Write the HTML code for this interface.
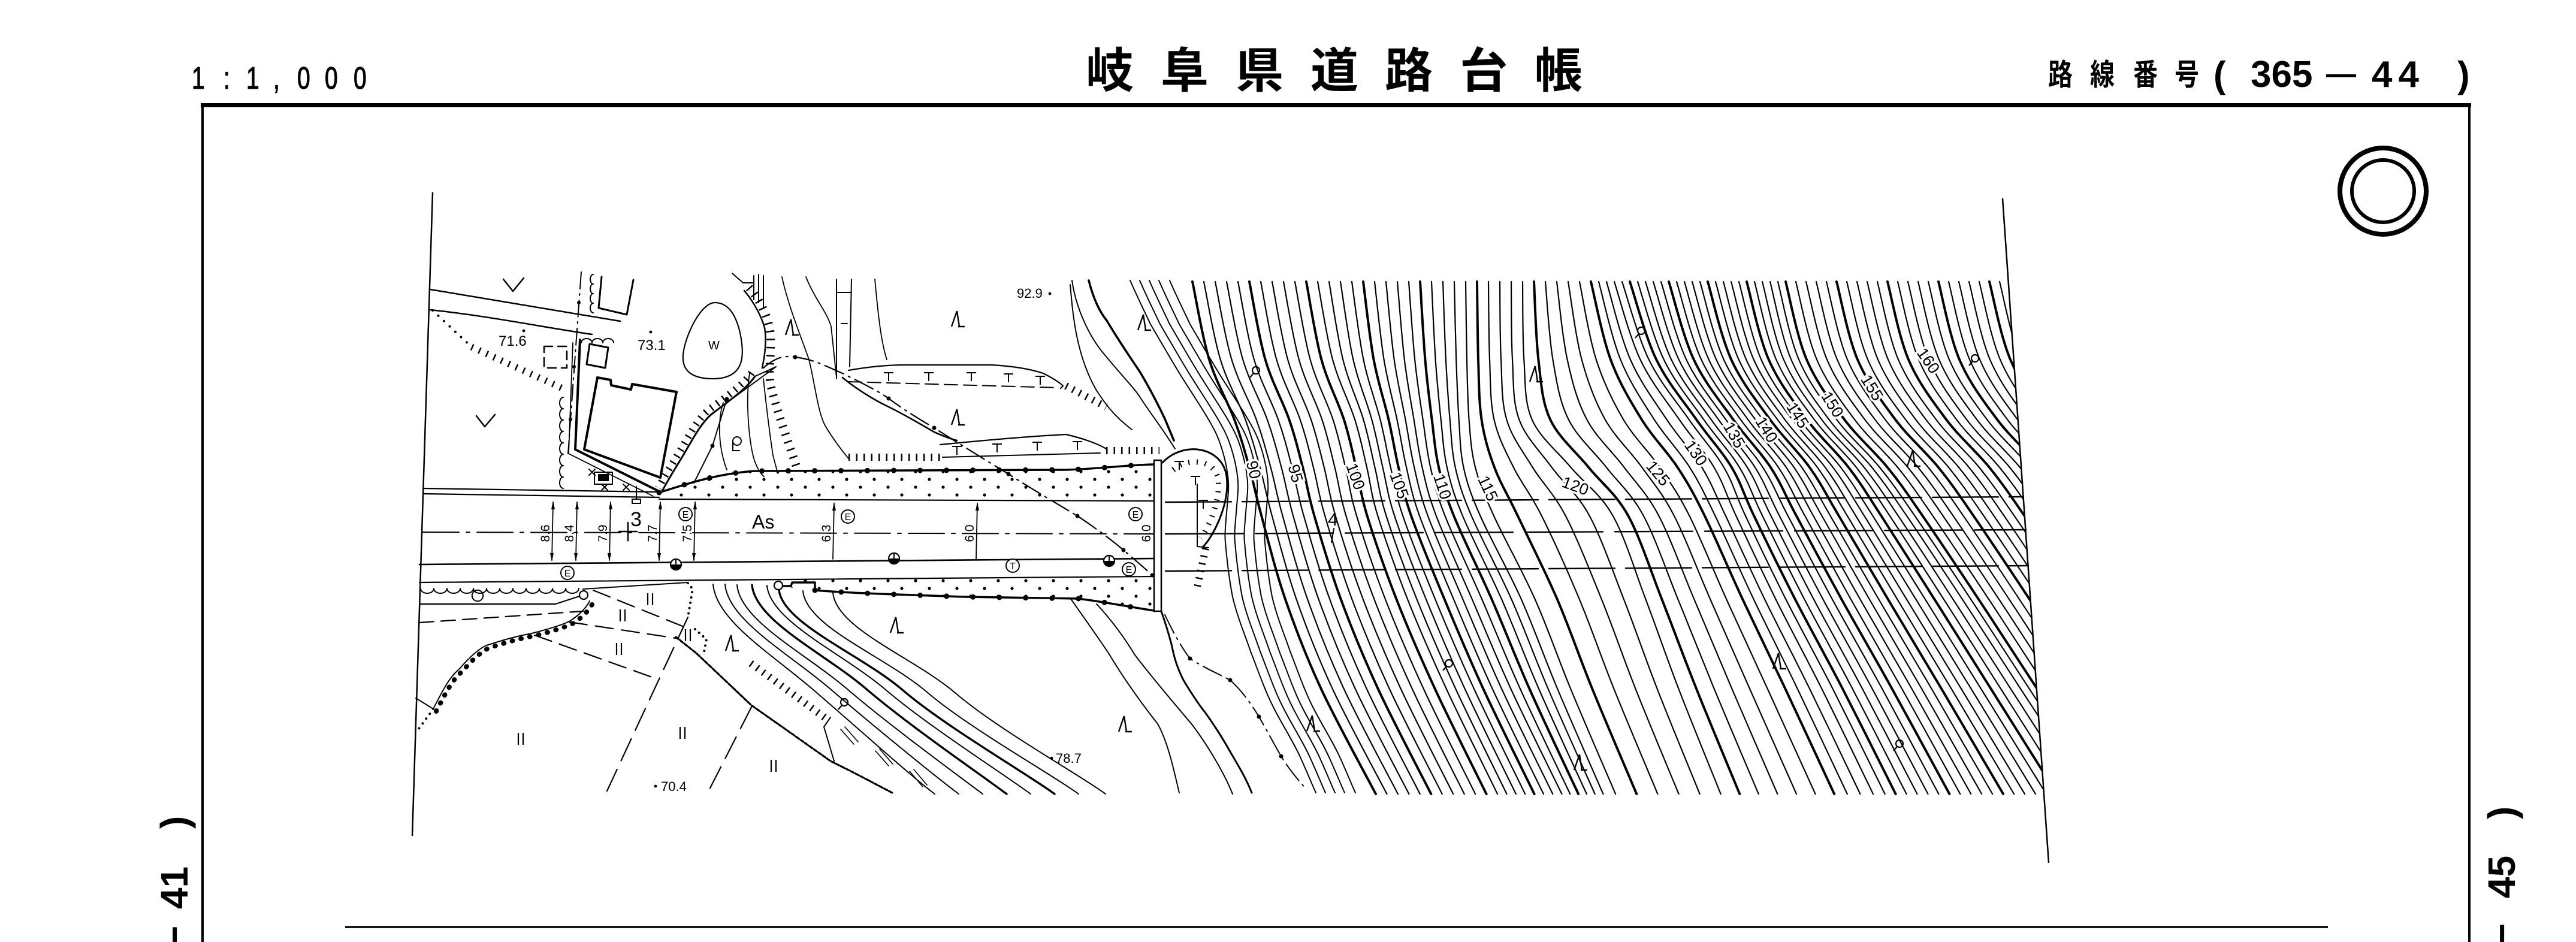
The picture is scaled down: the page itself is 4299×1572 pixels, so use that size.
<!DOCTYPE html>
<html><head><meta charset="utf-8">
<style>
html,body{margin:0;padding:0;background:#fff;}
svg{display:block;}
</style></head><body>
<svg xmlns="http://www.w3.org/2000/svg" width="4299" height="1572" viewBox="0 0 4299 1572">
<rect width="4299" height="1572" fill="#fff"/>
<defs>
 <pattern id="dots" width="46" height="26" patternUnits="userSpaceOnUse"><circle cx="10" cy="7" r="2.6" fill="#000"/><circle cx="33" cy="20" r="2.6" fill="#000"/></pattern>
 <g id="lam"><path d="M-9,13 L0,-13 L4,13 M2,13 H13" fill="none" stroke="#000" stroke-width="2.4"/></g>
 <g id="q"><circle cx="0" cy="0" r="6" fill="none" stroke="#000" stroke-width="2.2"/><path d="M-4,5 L-10,12" stroke="#000" stroke-width="2.2"/></g>
 <g id="ii"><path d="M-4,-10 V10 M4,-10 V10" stroke="#000" stroke-width="2.2" fill="none"/></g>
 <g id="ce"><circle r="11" fill="#fff" stroke="#000" stroke-width="2"/><text y="6" text-anchor="middle" font-size="16" font-family="Liberation Sans, sans-serif" fill="#000">E</text></g>
 <g id="ct"><circle r="11" fill="#fff" stroke="#000" stroke-width="2"/><text y="6" text-anchor="middle" font-size="16" font-family="Liberation Sans, sans-serif" fill="#000">T</text></g>
 <g id="ho"><circle r="9" fill="#fff" stroke="#000" stroke-width="2.2"/><path d="M-9,0 A9,9 0 0 0 9,0 Z" fill="#000"/><path d="M0,-9 V0" stroke="#000" stroke-width="2"/></g>
 <g id="tt"><path d="M-8,0 H8 M0,0 V14" stroke="#000" stroke-width="2" fill="none"/></g>
 <clipPath id="mc"><polygon points="1700,440 3349,440 3419,1440 1700,1440"/></clipPath>
</defs>

<!-- HEADER -->
<g font-family="Liberation Sans, sans-serif" font-size="52" fill="#000" stroke="#000" stroke-width="1.2">
 <text transform="translate(320,148) scale(0.75,1)">1</text>
 <text transform="translate(373,148) scale(0.75,1)">:</text>
 <text transform="translate(411,148) scale(0.75,1)">1</text>
 <text transform="translate(456,148) scale(0.75,1)">,</text>
 <text transform="translate(496,148) scale(0.75,1)">0</text>
 <text transform="translate(542,148) scale(0.75,1)">0</text>
 <text transform="translate(590,148) scale(0.75,1)">0</text>
</g>
<g font-family="Liberation Sans, Noto Sans CJK JP, sans-serif" font-weight="bold" font-size="80" fill="#000">
 <text x="1812" y="146">岐</text>
 <text x="1937" y="146">阜</text>
 <text x="2062" y="146">県</text>
 <text x="2187" y="146">道</text>
 <text x="2311" y="146">路</text>
 <text x="2436" y="146">台</text>
 <text x="2561" y="146">帳</text>
</g>
<g font-family="Liberation Sans, Noto Sans CJK JP, sans-serif" font-weight="bold" fill="#000">
 <text transform="translate(3418,142) scale(0.82,1)" font-size="50">路</text>
 <text transform="translate(3488,142) scale(0.82,1)" font-size="50">線</text>
 <text transform="translate(3560,142) scale(0.82,1)" font-size="50">番</text>
 <text transform="translate(3629,142) scale(0.82,1)" font-size="50">号</text>
 <text x="3694" y="146" font-size="62">(</text>
 <text x="3756" y="145" font-size="62">365</text>
 <text x="3882" y="140" font-size="50">—</text>
 <text x="3958" y="145" font-size="62" letter-spacing="10">44</text>
 <text x="4101" y="146" font-size="62">)</text>
</g>

<!-- BORDER -->
<g stroke="#000" fill="none">
 <line x1="335" y1="175.5" x2="4124" y2="175.5" stroke-width="7"/>
 <line x1="338" y1="172" x2="338" y2="1572" stroke-width="4"/>
 <line x1="4121" y1="172" x2="4121" y2="1572" stroke-width="4"/>
 <line x1="576" y1="1547" x2="3885" y2="1547" stroke-width="3.5"/>
 <circle cx="3977" cy="319" r="72" stroke-width="8"/>
 <circle cx="3977" cy="319" r="52" stroke-width="6"/>
</g>

<!-- side labels -->
<g font-family="Liberation Sans, sans-serif" font-weight="bold" font-size="64" fill="#000">
 <text transform="translate(313,1517) rotate(-90)">41</text>
 <text transform="translate(313,1383) rotate(-90)">)</text>
 <text transform="translate(313,1582) rotate(-90)">−</text>
 <text transform="translate(4197,1499) rotate(-90)">45</text>
 <text transform="translate(4197,1367) rotate(-90)">)</text>
 <text transform="translate(4197,1578) rotate(-90)">−</text>
</g>
<g font-family="Liberation Sans, Noto Sans CJK JP, sans-serif" font-size="60" fill="#000">
 <text x="1945" y="1624">平</text>
 <text x="2070" y="1624">面</text>
 <text x="2230" y="1624">図</text>
</g>

<!-- MAP FRAME -->
<g stroke="#000" fill="none" stroke-width="2.5">
 <line x1="722" y1="321" x2="688" y2="1395"/>
 <line x1="3342" y1="331" x2="3419" y2="1440"/>
</g>

<!-- MAIN CONTOUR FIELD (generated) -->
<g id="cont" clip-path="url(#mc)" stroke="#000" fill="none" stroke-linecap="round"></g>

<!-- LEFT MAP CONTENT -->
<g stroke="#000" fill="none" stroke-linecap="round" stroke-linejoin="round" stroke-width="2">
 <path d="M718,483 L1035,536" stroke-width="2.5"/>
 <path d="M718,517 C820,528 900,545 988,558" stroke-width="2.5"/>
 <path d="M722,518 L787,579" stroke-width="4" stroke-dasharray="0 13"/>
 <path d="M787,579 L943,650" stroke-width="11" stroke-dasharray="2.5 11" stroke-linecap="butt"/>
 <path d="M840,466 L856,486 L874,464" stroke-width="2.5"/>
 <path d="M795,694 L809,712 L826,692" stroke-width="2.5"/>
 <rect x="908" y="578" width="38" height="36" stroke-dasharray="14 9" stroke-width="2.5"/>
 <path d="M970,454 L948,757" stroke-dasharray="28 8 3 8"/>
 <path d="M940,663 a6,9.5 0 0 0 0,19 a6,9.5 0 0 0 0,19 a6,9.5 0 0 0 0,19 a6,9.5 0 0 0 0,19 a6,9.5 0 0 0 0,19 a6,9.5 0 0 0 0,19 a6,9.5 0 0 0 0,19 a6,9.5 0 0 0 0,19"/>
 <path d="M990,458 a5,8 0 0 0 0,16 a5,8 0 0 0 0,16 a5,8 0 0 0 0,16 a5,8 0 0 0 0,16"/>
 <path d="M970,572 a9,7 0 0 1 18,0 a9,7 0 0 1 18,0 a9,7 0 0 1 18,0"/>
 <path d="M702,982 a11,8 0 0 0 22,0 a11,8 0 0 0 22,0 a11,8 0 0 0 22,0 a11,8 0 0 0 22,0 a11,8 0 0 0 22,0 a11,8 0 0 0 22,0 a11,8 0 0 0 22,0 a11,8 0 0 0 22,0 a11,8 0 0 0 22,0 a11,8 0 0 0 22,0 a11,8 0 0 0 22,0 a11,8 0 0 0 22,0"/>
 <path d="M790,988 a9,9 0 1 0 14,12 a8,8 0 0 0 -14,-12"/>
 <path d="M1004,462 L999,514 L1046,525 L1057,467" stroke-width="3"/>
 <polygon points="984,574 1015,580 1010,614 979,608" stroke-width="3"/>
 <polygon points="997,630 1019,634 1020,643 1053,650 1055,641 1129,654 1102,797 975,750" stroke-width="4"/>
 <path d="M968,567 L960,750 L1100,820" stroke-width="4"/>
 <path d="M956,572 L949,757 L1090,828" stroke-width="1.8"/>
 <rect x="992" y="788" width="30" height="20"/>
 <rect x="999" y="792" width="16" height="10" fill="#000"/>
 <path d="M983,783 l10,10 m0,-10 l-10,10 M1004,808 l10,10 m0,-10 l-10,10 M1040,808 l10,10 m0,-10 l-10,10"/>
 <path d="M1062,812 V833 M1055,833 H1069 V840 H1055 Z"/>
 <path d="M1193,505 C1215,505 1228,525 1235,555 C1242,590 1245,630 1193,632 C1150,633 1138,615 1140,592 C1143,560 1170,505 1193,505 Z" stroke-width="2.2"/>
 <path d="M1260,628 C1245,650 1215,670 1189,690 C1170,705 1155,735 1140,760 C1125,785 1112,805 1105,820" stroke-width="3"/>
 <path d="M1254,622 C1239,644 1209,664 1183,684 C1164,699 1149,729 1134,754 C1119,779 1106,799 1099,814" stroke-width="12" stroke-dasharray="2.5 10" stroke-linecap="butt"/>
 <path d="M1295,612 L1260,628 M1213,672 L1295,612"/>
 <path d="M1242,485 C1255,500 1270,525 1276,547 C1280,570 1276,595 1272,614" stroke-width="2.5"/>
 <path d="M1250,480 C1268,500 1284,530 1286,560 C1288,600 1280,620 1288,650 C1298,690 1313,730 1331,784" stroke-width="14" stroke-dasharray="2.5 11" stroke-linecap="butt"/>
 <path d="M1258,460 V500 M1266,458 V505 M1274,460 V515 M1222,456 L1240,472 H1256"/>
 <path d="M1158,806 L1189,744 L1213,666"/>
 <circle cx="1230" cy="736" r="7"/><path d="M1223,736 V752 M1223,752 H1234"/>
 <path d="M1305,462 C1315,510 1340,570 1350,600 C1360,640 1365,690 1378,712 C1392,735 1405,752 1416,765" stroke-width="1.8"/>
 <path d="M1251,623 C1245,660 1248,720 1256,757 C1260,775 1268,790 1275,795" stroke-width="1.8"/>
 <path d="M1274,632 C1278,670 1284,720 1290,760 L1298,790" stroke-width="1.8"/>
 <path d="M1207,672 C1198,700 1198,745 1213,784" stroke-width="1.8"/>
 <path d="M1345,462 C1360,500 1380,520 1387,545 L1396,630" stroke-width="1.8"/>
 <path d="M1460,466 C1465,520 1470,570 1480,600" stroke-width="1.8"/>
 <path d="M1396,466 V632 M1421,466 L1418,612 M1396,488 H1421 M1404,540 H1414" stroke-width="2"/>
 <path d="M1406,630 C1430,650 1460,668 1483,679 C1510,692 1540,710 1559,721 C1575,728 1588,733 1597,735" stroke-width="2.6"/>
 <path d="M1416,618 C1450,612 1480,609 1511,609 L1655,609 C1690,611 1720,616 1741,623 C1755,630 1768,638 1774,644 L1770,648" stroke-width="2.2"/>
 <path d="M1416,637 L1765,647" stroke-dasharray="22 10"/>
 <path d="M1779,644 L1846,679" stroke-width="12" stroke-dasharray="2.5 10" stroke-linecap="butt"/>
 <path d="M1569,742 C1640,735 1720,728 1779,725 C1810,732 1835,742 1846,749" stroke-width="2.2"/>
 <path d="M1573,763 L1836,756"/>
 <path d="M1416,763 L1569,763" stroke-width="12" stroke-dasharray="2.5 10" stroke-linecap="butt"/>
 <path d="M1846,752 L1935,752" stroke-width="12" stroke-dasharray="2.5 10" stroke-linecap="butt"/>
 <path d="M1789,468 C1795,510 1815,560 1846,595 C1875,630 1895,650 1904,665 C1920,690 1940,715 1961,749" stroke-width="2"/>
 <path d="M1817,468 C1825,500 1835,520 1847,535 C1865,565 1885,595 1902,620 C1920,650 1935,680 1944,699 L1959,735" stroke-width="3.6"/>
 <path d="M1786,475 C1790,520 1795,590 1829,650 C1845,675 1860,695 1889,717" stroke-width="2"/>
 <path id="cj" d="M1886,468 C1900,500 1915,530 1920,541 C1940,575 1960,610 1974,632 C1995,665 2015,695 2023,711 C2040,740 2052,790 2050,820 C2047,860 2043,890 2045,905 C2048,940 2052,970 2057,996 C2065,1030 2078,1060 2087,1087 C2100,1120 2110,1150 2124,1178 C2140,1210 2160,1240 2172,1268 C2182,1290 2190,1310 2196,1323" stroke-width="2"/>
 <use href="#cj" x="16"/>
 <use href="#cj" x="32"/>
 <use href="#cj" x="48" stroke-width="3.6"/>
 <use href="#cj" x="66"/>
 <path d="M1940,772 C1975,735 2040,745 2047,795 C2053,840 2025,895 2008,912" stroke-width="3"/>
 <path d="M1958,784 C1985,762 2028,768 2033,800 C2037,835 2018,878 2004,898" stroke-width="9" stroke-dasharray="2 12" stroke-linecap="butt"/>
 <path d="M1998,808 L1998,912 L2017,914"/>
 <path d="M2012,915 L1998,980" stroke-width="12" stroke-dasharray="2.5 10" stroke-linecap="butt"/>
 <path d="M1938,1020 C1945,1040 1950,1056 1955,1075 C1960,1100 1965,1115 1975,1135 C1990,1160 2000,1175 2012,1190 C2030,1215 2045,1240 2055,1258 C2068,1280 2080,1300 2089,1323" stroke-width="3"/>
 <path d="M1944,1026 C1960,1060 1975,1085 1986,1099 C2010,1115 2035,1125 2053,1135 C2075,1155 2090,1178 2101,1196 C2115,1220 2128,1245 2138,1262 C2150,1282 2165,1300 2180,1317" stroke-dasharray="34 9 3 9"/>
 <path d="M1274,614 C1290,600 1305,592 1327,596 C1360,600 1380,612 1406,623 C1440,640 1470,655 1483,665 C1510,685 1535,700 1559,714 C1600,740 1640,765 1683,791 C1720,815 1760,838 1798,861 C1830,882 1860,905 1875,918 C1895,935 1910,948 1923,960" stroke-width="2.2" stroke-dasharray="34 9 3 9"/>
 <path d="M1190,975 C1195,1035 1286,1090 1356,1150 S1520,1295 1560,1325" stroke-width="2"/>
 <path d="M1210,975 C1215,1035 1316,1090 1386,1150 S1560,1295 1600,1325" stroke-width="2"/>
 <path d="M1230,976 C1235,1036 1344,1090 1414,1150 S1600,1295 1640,1325" stroke-width="2"/>
 <path d="M1255,976 C1260,1036 1376,1090 1446,1150 S1640,1295 1680,1325" stroke-width="3.4"/>
 <path d="M1280,977 C1285,1037 1408,1091 1478,1151 S1680,1295 1720,1325" stroke-width="2"/>
 <path d="M1300,984 C1305,1040 1437,1092 1507,1152 S1720,1295 1760,1325" stroke-width="3.4"/>
 <path d="M1340,986 C1345,1046 1477,1095 1547,1155 S1760,1295 1800,1325" stroke-width="2"/>
 <path d="M1390,989 C1395,1049 1525,1097 1595,1157 S1805,1295 1845,1325" stroke-width="2"/>
 <path d="M1786,998 C1805,1025 1830,1060 1850,1090 C1880,1140 1910,1180 1932,1208 C1950,1240 1960,1290 1968,1323" stroke-width="2"/>
 <path d="M1830,1008 C1860,1040 1880,1070 1894,1093 C1930,1140 1965,1180 1990,1210 C2020,1250 2045,1295 2057,1325" stroke-width="2"/>
 <path d="M973,983 L1148,972"/>
 <path d="M700,1008 L927,1008 L973,993" stroke-width="2.2"/>
 <path d="M700,1039 L973,1020" stroke-width="2.2" stroke-dasharray="24 12"/>
 <path d="M694,1165 L723,1183 C740,1150 750,1130 766,1117 C785,1095 800,1082 812,1077 C840,1068 860,1062 887,1057 C915,1050 935,1044 950,1037 C965,1028 978,1015 984,1003" stroke-width="2"/>
 <path d="M723,1183 C740,1150 750,1130 766,1117 C785,1095 800,1082 812,1077 C840,1068 860,1062 887,1057 C915,1050 935,1044 950,1037 C965,1028 978,1015 984,1003" stroke-width="8" stroke-dasharray="1 14" transform="translate(5,4)"/>
 <path d="M723,1183 L694,1223" stroke-width="4" stroke-dasharray="0 10"/>
 <path d="M990,985 L1139,1045" stroke-width="2.2" stroke-dasharray="30 14"/>
 <path d="M950,1038 L1128,1065" stroke-width="2.2" stroke-dasharray="30 14"/>
 <path d="M892,1060 L1088,1130" stroke-width="2.2" stroke-dasharray="30 14"/>
 <path d="M1148,1030 L1013,1320" stroke-width="2.2" stroke-dasharray="40 16"/>
 <path d="M1254,1180 L1179,1327" stroke-width="2.2" stroke-dasharray="40 16"/>
 <path d="M1148,973 L1156,983 L1148,1030" stroke-width="4" stroke-dasharray="0 9"/>
 <path d="M1160,1050 L1179,1067 L1174,1093" stroke-width="4" stroke-dasharray="0 9"/>
 <path d="M1128,1063 L1162,1090 L1197,1123 L1254,1177 L1311,1217 L1386,1270 L1426,1290 L1489,1323" stroke-width="3.2" stroke-dasharray="6 3"/>
 <path d="M1128,1063 L1162,1090 L1197,1123 L1254,1177 L1311,1217 L1386,1270 L1426,1290 L1489,1323" stroke-width="1.6"/>
 <path d="M1253,1107 L1377,1198" stroke-width="12" stroke-dasharray="2.5 10" stroke-linecap="butt"/>
 <path d="M1386,1197 L1375,1213 L1392,1270"/>
 <path d="M1403,1217 L1425,1242 M1410,1213 L1432,1238 M1461,1253 L1483,1278 M1468,1250 L1490,1275 M1518,1287 L1540,1313 M1525,1284 L1547,1310" stroke-width="1.6"/>
 <path d="M706,815 L1100,821" stroke-width="2.2"/>
 <path d="M706,824 L1100,830" stroke-width="2.2"/>
 <path d="M1100,833 L1926,836" stroke-width="2.2"/>
 <path d="M706,888 L1926,891" stroke-width="2" stroke-dasharray="60 12 6 12"/>
 <path d="M700,942 L1926,932" stroke-width="2.6"/>
 <path d="M700,972 L1926,962" stroke-width="2.2"/>
 <path d="M1945,838 L3377,829" stroke-width="2.4" stroke-dasharray="110 18"/>
 <path d="M1945,891 L3381,884" stroke-width="2.4" stroke-dasharray="130 20"/>
 <path d="M1945,953 L3385,944" stroke-width="2.4" stroke-dasharray="110 18"/>
</g>

<!-- stipple bands -->
<path d="M1100,833 L1100,822 C1150,806 1200,790 1260,786 L1780,784 C1840,782 1880,776 1926,775 L1926,836 Z" fill="url(#dots)"/>
<path d="M1300,962 L1926,962 L1926,1019 C1880,1012 1830,1002 1800,999 L1610,996 C1500,992 1400,990 1360,985 L1300,978 Z" fill="url(#dots)"/>
<g stroke="#000" fill="none" stroke-linecap="round" stroke-linejoin="round">
 <path d="M1100,822 C1150,806 1200,790 1260,786 L1780,784 C1840,782 1880,776 1926,775" stroke-width="3.5"/>
 <path d="M1100,822 C1150,806 1200,790 1260,786 L1780,784 C1840,782 1880,776 1926,775" stroke-width="9" stroke-dasharray="0 44"/>
 <path d="M1306,978 L1320,978 L1322,972 L1360,972 L1360,985 C1420,990 1500,992 1610,996 L1800,999 C1840,1004 1880,1012 1926,1019" stroke-width="3.5"/>
 <path d="M1360,985 C1420,990 1500,992 1610,996 L1800,999 C1840,1004 1880,1012 1926,1019" stroke-width="9" stroke-dasharray="0 44"/>
 <rect x="1926" y="768" width="12" height="252" stroke-width="2.5" fill="#fff"/>
 <circle cx="1299" cy="977" r="7" fill="#fff" stroke-width="2.2"/>
 <circle cx="974" cy="993" r="7" fill="#fff" stroke-width="2.2"/>
 <path d="M923,838 L921,935 M963,838 L961,935 M1019,838 L1017,935 M1102,838 L1100,935 M1160,838 L1158,935 M1392,840 L1390,933 M1631,840 L1629,933" stroke-width="1.8"/>
 <path d="M1033,887 H1063 M1048,872 V902" stroke-width="2.6"/>
 <path d="M2226,882 L2222,905" stroke-width="2"/>
</g>
<g fill="#000">
 <path d="M923,836 l-3,14 h6 z M921,937 l-3,-14 h6 z M963,836 l-3,14 h6 z M961,937 l-3,-14 h6 z M1019,836 l-3,14 h6 z M1017,937 l-3,-14 h6 z M1102,836 l-3,14 h6 z M1100,937 l-3,-14 h6 z M1160,836 l-3,14 h6 z M1158,937 l-3,-14 h6 z M1392,838 l-3,14 h6 z M1631,838 l-3,14 h6 z"/>
 <circle cx="874" cy="552" r="2.4"/><circle cx="1086" cy="554" r="2.4"/>
 <circle cx="1752" cy="490" r="2.4"/><circle cx="1755" cy="1265" r="2.4"/><circle cx="1094" cy="1312" r="2.4"/>
 <circle cx="966" cy="505" r="3"/><circle cx="958" cy="612" r="3"/><circle cx="952" cy="700" r="3"/>
 <circle cx="1189" cy="744" r="3.5"/><circle cx="1213" cy="666" r="3.5"/>
 <circle cx="1327" cy="596" r="3.5"/><circle cx="1483" cy="665" r="3.5"/><circle cx="1559" cy="714" r="3.5"/><circle cx="1683" cy="791" r="3.5"/><circle cx="1798" cy="861" r="3.5"/><circle cx="1875" cy="918" r="3.5"/><circle cx="1923" cy="960" r="3.5"/>
 <circle cx="1986" cy="1099" r="3.5"/><circle cx="2053" cy="1135" r="3.5"/><circle cx="2101" cy="1196" r="3.5"/><circle cx="2138" cy="1262" r="3.5"/>
</g>

<!-- symbols -->
<g>
 <use href="#tt" x="1483" y="622"/><use href="#tt" x="1550" y="622"/><use href="#tt" x="1621" y="622"/><use href="#tt" x="1683" y="624"/><use href="#tt" x="1736" y="628"/>
 <use href="#tt" x="1597" y="745"/><use href="#tt" x="1664" y="741"/><use href="#tt" x="1731" y="738"/><use href="#tt" x="1798" y="737"/>
 <use href="#tt" x="1968" y="770"/><use href="#tt" x="1995" y="795"/><use href="#tt" x="2008" y="835"/>
 <use href="#lam" x="1320" y="546"/><use href="#lam" x="1597" y="532"/><use href="#lam" x="1908" y="538"/><use href="#lam" x="1597" y="696"/>
 <use href="#lam" x="1495" y="1043"/><use href="#lam" x="1220" y="1073"/><use href="#lam" x="1876" y="1208"/>
 <use href="#lam" x="2562" y="624"/><use href="#lam" x="3192" y="765"/><use href="#lam" x="2968" y="1103"/><use href="#lam" x="2190" y="1207"/><use href="#lam" x="2636" y="1272"/>
 <use href="#q" x="2096" y="618"/><use href="#q" x="2739" y="552"/><use href="#q" x="3296" y="598"/><use href="#q" x="2418" y="1107"/><use href="#q" x="3170" y="1241"/><use href="#q" x="1409" y="1172"/>
 <use href="#ii" x="1085" y="1000"/><use href="#ii" x="1039" y="1027"/><use href="#ii" x="1033" y="1083"/><use href="#ii" x="869" y="1233"/><use href="#ii" x="1139" y="1223"/><use href="#ii" x="1291" y="1278"/><use href="#ii" x="1148" y="1060"/>
 <use href="#ce" x="1144" y="858"/><use href="#ce" x="947" y="956"/><use href="#ce" x="1415" y="862"/><use href="#ce" x="1895" y="858"/><use href="#ce" x="1884" y="950"/>
 <use href="#ho" x="1128" y="942"/><use href="#ho" x="1492" y="932"/><use href="#ho" x="1851" y="936"/>
 <use href="#ct" x="1690" y="944"/>
</g>

<!-- map labels -->
<g font-family="Liberation Sans, sans-serif" fill="#000">
 <text x="832" y="577" font-size="24">71.6</text>
 <text x="1064" y="584" font-size="24">73.1</text>
 <text x="1182" y="583" font-size="20">W</text>
 <text x="1697" y="497" font-size="22">92.9</text>
 <text x="1762" y="1273" font-size="22">78.7</text>
 <text x="1103" y="1320" font-size="22">70.4</text>
 <text x="1052" y="878" font-size="34">3</text>
 <text x="1255" y="882" font-size="32">As</text>
 <text x="2216" y="877" font-size="30">4</text>
</g>
<g font-family="Liberation Sans, sans-serif" font-size="21" fill="#000" text-anchor="middle">
 <text transform="translate(917,890) rotate(-90)">8.6</text>
 <text transform="translate(957,890) rotate(-90)">8.4</text>
 <text transform="translate(1013,890) rotate(-90)">7.9</text>
 <text transform="translate(1096,890) rotate(-90)">7.7</text>
 <text transform="translate(1154,890) rotate(-90)">7.5</text>
 <text transform="translate(1386,890) rotate(-90)">6.3</text>
 <text transform="translate(1625,890) rotate(-90)">6.0</text>
 <text transform="translate(1920,890) rotate(-90)">6.0</text>
</g>
<g font-family="Liberation Sans, sans-serif" font-size="27" fill="#000" stroke="#fff" stroke-width="7" paint-order="stroke" text-anchor="middle">
 <text transform="translate(2092,784) rotate(75)" dy="9">90</text>
 <text transform="translate(2162,790) rotate(75)" dy="9">95</text>
 <text transform="translate(2262,795) rotate(70)" dy="9">100</text>
 <text transform="translate(2335,810) rotate(70)" dy="9">105</text>
 <text transform="translate(2407,812) rotate(72)" dy="9">110</text>
 <text transform="translate(2483,815) rotate(65)" dy="9">115</text>
 <text transform="translate(2629,811) rotate(20)" dy="9">120</text>
 <text transform="translate(2767,790) rotate(50)" dy="9">125</text>
 <text transform="translate(2830,756) rotate(55)" dy="9">130</text>
 <text transform="translate(2894,726) rotate(60)" dy="9">135</text>
 <text transform="translate(2948,717) rotate(58)" dy="9">140</text>
 <text transform="translate(3000,693) rotate(58)" dy="9">145</text>
 <text transform="translate(3058,675) rotate(58)" dy="9">150</text>
 <text transform="translate(3124,647) rotate(58)" dy="9">155</text>
 <text transform="translate(3218,602) rotate(55)" dy="9">160</text>
</g>
</svg>
<script>
(function(){
var NS="http://www.w3.org/2000/svg";
var g=document.getElementById("cont");
var Y=[470,600,700,780,860,1000,1150,1325];
var K=[[1990,[0,28,70,95,115,155,215,306]],[2200,[0,25,62,82,100,150,215,300]],[2330,[0,12,28,42,65,125,190,275]],[2440,[0,2,5,12,40,110,170,245]],[2540,[0,2,15,80,150,205,260,330]],[2700,[0,45,112,170,205,272,350,436]],[2960,[0,35,98,170,228,322,420,535]]];
function D(x){
 if(x<=K[0][0])return K[0][1];
 for(var i=0;i<K.length-1;i++){
  if(x<=K[i+1][0]){var t=(x-K[i][0])/(K[i+1][0]-K[i][0]);var a=K[i][1],b=K[i+1][1];var r=[];for(var j=0;j<a.length;j++)r.push(a[j]+(b[j]-a[j])*t);return r;}
 }
 return K[K.length-1][1];
}
function X0(k){ if(k<=35) return 1990+19*k; if(k<=60) return 2655+13*(k-35); return 2980+17*(k-60);}
for(var k=0;k<=84;k++){
 var x=X0(k), d=D(x), P=[];
 for(var i=0;i<Y.length;i++)P.push([x+d[i],Y[i]]);
 var s="M"+P[0][0].toFixed(1)+","+P[0][1];
 for(var i=0;i<P.length-1;i++){
  var p0=P[Math.max(i-1,0)],p1=P[i],p2=P[i+1],p3=P[Math.min(i+2,P.length-1)];
  var c1x=p1[0]+(p2[0]-p0[0])/6,c1y=p1[1]+(p2[1]-p0[1])/6;
  var c2x=p2[0]-(p3[0]-p1[0])/6,c2y=p2[1]-(p3[1]-p1[1])/6;
  s+=" C"+c1x.toFixed(1)+","+c1y.toFixed(1)+" "+c2x.toFixed(1)+","+c2y.toFixed(1)+" "+p2[0].toFixed(1)+","+p2[1];
 }
 var e=document.createElementNS(NS,"path");
 e.setAttribute("d",s);
 e.setAttribute("stroke-width",(k%5==0)?"4":"2.2");
 g.appendChild(e);
}
})();
</script>
</body></html>
